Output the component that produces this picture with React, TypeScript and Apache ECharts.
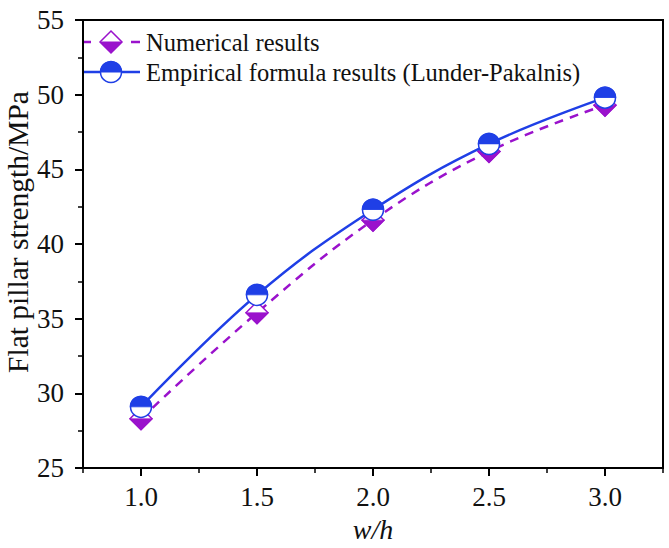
import React, { useEffect, useRef } from "react";
import * as echarts from "echarts";

// w/h ratios and pillar strengths (MPa)
const ratios = [1.0, 1.5, 2.0, 2.5, 3.0];
const numerical = [28.3, 35.4, 41.6, 46.2, 49.3];
const empirical = [29.1, 36.6, 42.3, 46.7, 49.8];

// axis ticks
const xMajorTicks = [1.0, 1.5, 2.0, 2.5, 3.0];
const xMinorTicks = [0.75, 1.25, 1.75, 2.25, 2.75, 3.25];
const yMin = 25;
const yMax = 55;
const yStep = 5;

const seriesNames = ["Numerical results", "Empirical formula results (Lunder-Pakalnis)"];

const PURPLE = "#9a12cc";
const BLUE = "#1f3fe6";
const SERIF = "Liberation Serif";

// half shapes used to fill the lower half of the diamond / upper half of the circle
const LOWER_TRIANGLE = "path://M0,0 L20,0 L10,10 Z";
const UPPER_HALF_DISC = "path://M0,10 A10,10 0 0 1 20,10 Z";

const tickTextStyle = { fontFamily: SERIF, fontSize: 27, color: "#111" };

export default function App() {
  const ref = useRef<HTMLDivElement>(null);

  useEffect(() => {
    if (!ref.current) return;
    const chart = echarts.init(ref.current, undefined, { renderer: "svg" });

    const numPts = ratios.map((x, i) => [x, numerical[i]]);
    const empPts = ratios.map((x, i) => [x, empirical[i]]);

    const legendY1 = 42;
    const legendY2 = 72;
    const legendCx = 111;

    chart.setOption({
      animation: false,
      backgroundColor: "#ffffff",
      textStyle: { fontFamily: SERIF },
      grid: {
        left: 83,
        right: 6,
        top: 20,
        bottom: 77,
        show: true,
        borderColor: "#000",
        borderWidth: 2,
        backgroundColor: "transparent",
      },
      xAxis: [
        {
          type: "value",
          min: 0.75,
          max: 3.25,
          name: "w/h",
          nameLocation: "middle",
          nameGap: 44,
          nameTextStyle: { fontFamily: SERIF, fontSize: 28, fontStyle: "italic", color: "#111" },
          axisLine: { show: true, lineStyle: { color: "#000", width: 2 } },
          axisTick: {
            show: true,
            inside: false,
            length: 8,
            lineStyle: { color: "#000", width: 2 },
            customValues: xMajorTicks,
          },
          axisLabel: {
            show: true,
            margin: 15,
            ...tickTextStyle,
            customValues: xMajorTicks,
            formatter: (v: number) => `{t|${v.toFixed(1)}}`,
            rich: { t: tickTextStyle },
          },
          splitLine: { show: false },
        },
        {
          type: "value",
          min: 0.75,
          max: 3.25,
          position: "bottom",
          axisLine: { show: false },
          axisTick: {
            show: true,
            inside: false,
            length: 5,
            lineStyle: { color: "#000", width: 1.5 },
            customValues: xMinorTicks,
          },
          axisLabel: { show: false },
          splitLine: { show: false },
        },
      ],
      yAxis: {
        type: "value",
        min: yMin,
        max: yMax,
        interval: yStep,
        axisLine: { show: true, lineStyle: { color: "#000", width: 2 } },
        axisTick: { show: true, inside: false, length: 8, lineStyle: { color: "#000", width: 2 } },
        minorTick: { show: true, splitNumber: 2, length: 5, lineStyle: { color: "#000", width: 1.5 } },
        axisLabel: {
          margin: 19,
          ...tickTextStyle,
          formatter: (v: number) => `{t|${v}}`,
          rich: { t: tickTextStyle },
        },
        splitLine: { show: false },
        minorSplitLine: { show: false },
      },
      series: [
        {
          name: seriesNames[0],
          type: "line",
          data: numPts,
          smooth: 0.4,
          showSymbol: false,
          lineStyle: { color: PURPLE, width: 2.5, type: [9, 7] },
          z: 2,
        },
        {
          type: "scatter",
          data: numPts,
          symbol: "diamond",
          symbolSize: 22,
          itemStyle: { color: "#fff", borderColor: PURPLE, borderWidth: 1.5, opacity: 1 },
          z: 3,
        },
        {
          type: "scatter",
          data: numPts,
          symbol: LOWER_TRIANGLE,
          symbolSize: [22, 11],
          symbolOffset: [0, 5.5],
          itemStyle: { color: PURPLE, borderColor: PURPLE, borderWidth: 1, opacity: 1 },
          z: 4,
        },
        {
          name: seriesNames[1],
          type: "line",
          data: empPts,
          smooth: 0.4,
          showSymbol: false,
          lineStyle: { color: BLUE, width: 2.5, type: "solid" },
          z: 5,
        },
        {
          type: "scatter",
          data: empPts,
          symbol: "circle",
          symbolSize: 21,
          itemStyle: { color: "#fff", borderColor: BLUE, borderWidth: 1.5, opacity: 1 },
          z: 6,
        },
        {
          type: "scatter",
          data: empPts,
          symbol: UPPER_HALF_DISC,
          symbolSize: [21, 10.5],
          symbolOffset: [0, -5.25],
          itemStyle: { color: BLUE, borderColor: BLUE, borderWidth: 1, opacity: 1 },
          z: 7,
        },
      ],
      graphic: [
        // y axis title
        {
          type: "text",
          x: 18,
          y: 232,
          rotation: Math.PI / 2,
          style: {
            text: "Flat pillar strength/MPa",
            font: `29.5px ${SERIF}`,
            fill: "#111",
            textAlign: "center",
            textVerticalAlign: "middle",
          },
        },
        // legend row 1: dashed purple with half-filled diamond
        {
          type: "line",
          shape: { x1: 84, y1: legendY1, x2: 91, y2: legendY1 },
          style: { stroke: PURPLE, lineWidth: 2.5 },
        },
        {
          type: "line",
          shape: { x1: 131, y1: legendY1, x2: 140, y2: legendY1 },
          style: { stroke: PURPLE, lineWidth: 2.5 },
        },
        {
          type: "polygon",
          shape: {
            points: [
              [legendCx, legendY1 - 11],
              [legendCx + 11, legendY1],
              [legendCx, legendY1 + 11],
              [legendCx - 11, legendY1],
            ],
          },
          style: { fill: "#fff", stroke: PURPLE, lineWidth: 1.5 },
        },
        {
          type: "polygon",
          shape: {
            points: [
              [legendCx - 11, legendY1],
              [legendCx + 11, legendY1],
              [legendCx, legendY1 + 11],
            ],
          },
          style: { fill: PURPLE, stroke: PURPLE, lineWidth: 1 },
        },
        {
          type: "text",
          x: 146,
          y: legendY1,
          style: {
            text: seriesNames[0],
            font: `24.5px ${SERIF}`,
            fill: "#111",
            textAlign: "left",
            textVerticalAlign: "middle",
          },
        },
        // legend row 2: solid blue with half-filled circle
        {
          type: "line",
          shape: { x1: 84, y1: legendY2, x2: 140, y2: legendY2 },
          style: { stroke: BLUE, lineWidth: 2.5 },
        },
        {
          type: "circle",
          shape: { cx: legendCx, cy: legendY2, r: 10.5 },
          style: { fill: "#fff", stroke: BLUE, lineWidth: 1.5 },
        },
        {
          type: "sector",
          shape: { cx: legendCx, cy: legendY2, r: 10.5, r0: 0, startAngle: Math.PI, endAngle: Math.PI * 2, clockwise: true },
          style: { fill: BLUE, stroke: BLUE, lineWidth: 1 },
        },
        {
          type: "text",
          x: 146,
          y: legendY2,
          style: {
            text: seriesNames[1],
            font: `24.5px ${SERIF}`,
            fill: "#111",
            textAlign: "left",
            textVerticalAlign: "middle",
          },
        },
      ],
    });

    return () => chart.dispose();
  }, []);

  return (
    <div
      ref={ref}
      style={{ position: "fixed", left: 0, top: 0, width: 669, height: 548, background: "#fff" }}
    />
  );
}
